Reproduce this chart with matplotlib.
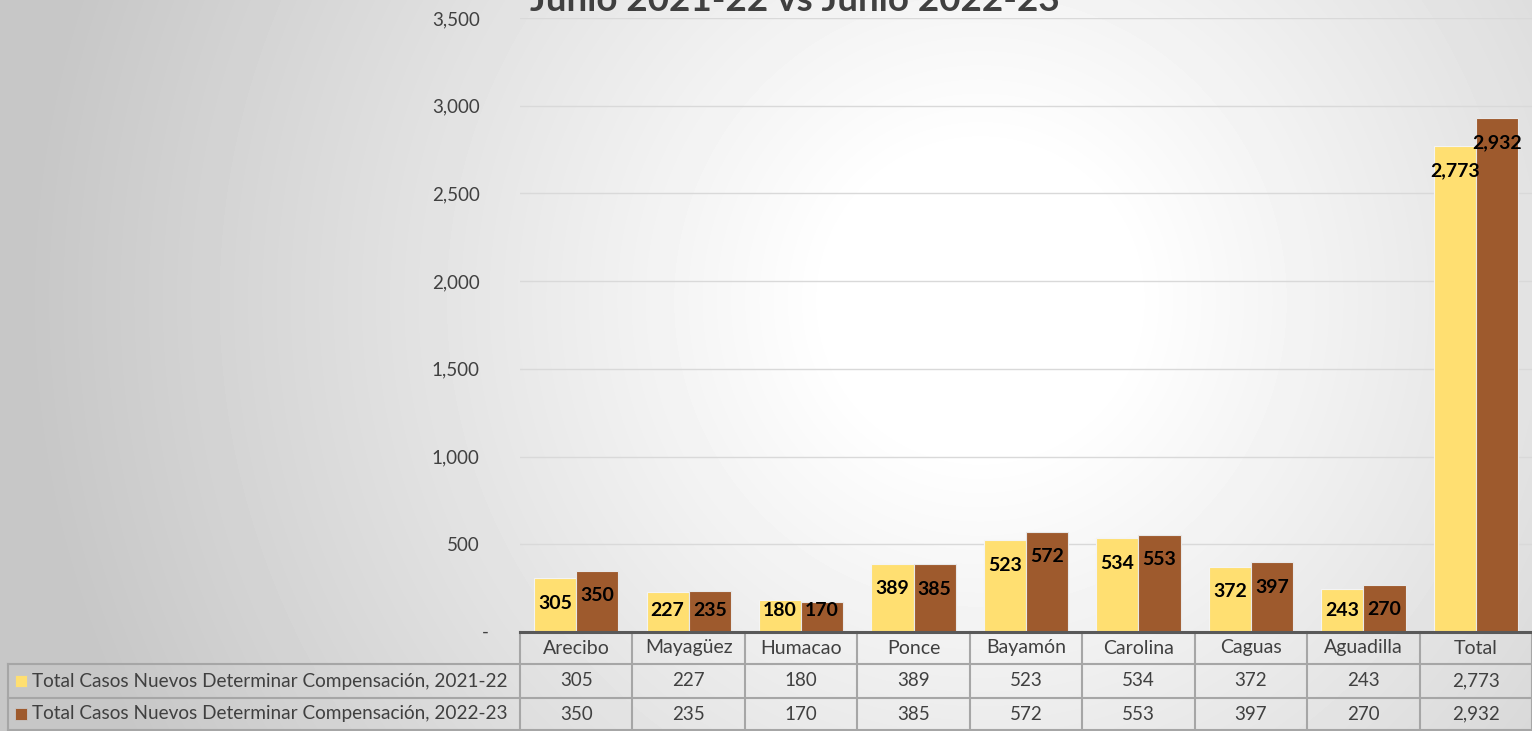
import numpy as np
import matplotlib.pyplot as plt

plt.rcParams['font.family'] = ['Lato', 'DejaVu Sans']

# data
sites = ["Arecibo", "Mayagüez", "Humacao", "Ponce", "Bayamón",
         "Carolina", "Caguas", "Aguadilla", "Total"]
casos_2122 = [305, 227, 180, 389, 523, 534, 372, 243, 2773]
casos_2223 = [350, 235, 170, 385, 572, 553, 397, 270, 2932]
series_names = ["Total Casos Nuevos Determinar Compensación, 2021-22",
                "Total Casos Nuevos Determinar Compensación, 2022-23"]
title = "Junio 2021-22 vs Junio 2022-23"
yticks = [0, 500, 1000, 1500, 2000, 2500, 3000, 3500]

colors = ['#FFDF71', '#9E5A2D']
txt = '#404040'

W, H = 1532, 731
fig = plt.figure(figsize=(W / 100, H / 100), dpi=100)

# radial grey background
bg = fig.add_axes([0, 0, 1, 1], zorder=-10)
yy, xx = np.mgrid[0:H, 0:W]
r = np.hypot(xx - 980, yy - 300) / 1000.0
shade = 1 - 0.22 * np.clip((r - 0.15) / 0.8, 0, 1)
bg.imshow(shade, cmap='gray', vmin=0, vmax=1, extent=[0, W, H, 0], aspect='auto')
bg.set_xlim(0, W)
bg.set_ylim(H, 0)
bg.axis('off')

# plot area
left, right, top, bottom = 520, 1532, 18, 632
ax = fig.add_axes([left / W, (H - bottom) / H, (right - left) / W, (bottom - top) / H])
ax.set_facecolor('none')

x = np.arange(len(sites))
bw = 0.375
ax.bar(x - bw / 2, casos_2122, bw, color=colors[0], edgecolor='#f4f4f4', linewidth=0.8, zorder=3)
ax.bar(x + bw / 2, casos_2223, bw, color=colors[1], edgecolor='#e8e8e8', linewidth=0.8, zorder=3)

for vals, off in ((casos_2122, -bw / 2), (casos_2223, bw / 2)):
    for xi, v in zip(x, vals):
        ax.text(xi + off, max(v - 142, 120), f"{v:,}", ha='center', va='center',
                fontsize=14, fontweight='bold', color='black', zorder=4)

ax.set_xlim(-0.5, len(sites) - 0.5)
ax.set_ylim(0, 3500)
ax.set_yticks(yticks)
ax.set_yticklabels(["" if v == 0 else f"{v:,}" for v in yticks], fontsize=13.5, color=txt)
ax.annotate("-", xy=(0, 0), xycoords=('axes fraction', 'data'), xytext=(-35, 0),
            textcoords='offset pixels', ha='center', va='center', fontsize=13.5, color=txt,
            annotation_clip=False)
ax.tick_params(axis='y', length=0, pad=29)
ax.set_xticks([])
ax.yaxis.grid(True, color='#d9d9d9', linewidth=1)
ax.set_axisbelow(True)
for s in ax.spines.values():
    s.set_visible(False)

# title (cut off at the top like the original)
fig.text(530 / W, (H - 11) / H, title, ha='left', va='baseline',
         fontsize=26.5, fontweight='bold', color=txt)

# data table under the chart
ov = fig.add_axes([0, 0, 1, 1], zorder=5)
ov.set_xlim(0, W)
ov.set_ylim(H, 0)
ov.axis('off')

colw = (right - left) / len(sites)
edges = left + np.arange(len(sites) + 1) * colw
rows = [632, 664, 698, 730]
grid_c = '#a6a6a6'

for e in edges:
    ov.plot([e, e], [rows[0], rows[-1]], color=grid_c, lw=1.5)
ov.plot([8, 8], [rows[1], rows[-1]], color=grid_c, lw=1.5)
for yv in rows[1:]:
    ov.plot([8, W], [yv, yv], color=grid_c, lw=1.5)
ov.plot([left, W], [rows[0], rows[0]], color='#595959', lw=2.2)

centers = (edges[:-1] + edges[1:]) / 2
for cx, name in zip(centers, sites):
    ov.text(cx, (rows[0] + rows[1]) / 2, name, ha='center', va='center', fontsize=14, color=txt)

for i, (vals, name) in enumerate(((casos_2122, series_names[0]), (casos_2223, series_names[1]))):
    yc = (rows[i + 1] + rows[i + 2]) / 2
    for cx, v in zip(centers, vals):
        ov.text(cx, yc, f"{v:,}", ha='center', va='center', fontsize=13.5, color=txt)
    ov.plot([21], [yc], marker='s', markersize=8.5, color=colors[i], markeredgecolor='#c8c8c8',
            markeredgewidth=0.6)
    ov.text(32, yc, name, ha='left', va='center', fontsize=13.7, color=txt)

fig.savefig('out.png', dpi=100)
